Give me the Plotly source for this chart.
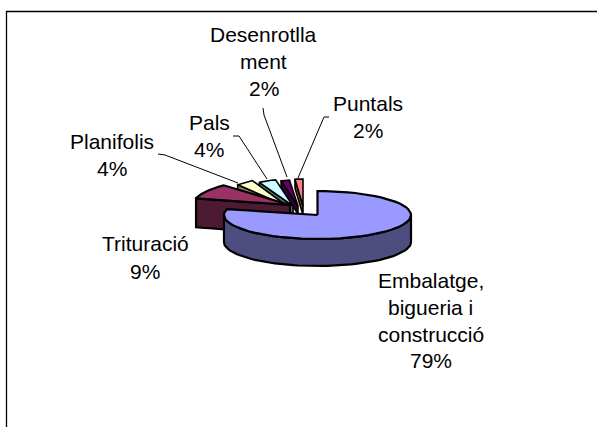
import math
import plotly.graph_objects as go

categories = ["Embalatge, bigueria i construcció", "Trituració", "Planifolis", "Pals", "Desenrotllament", "Puntals"]
values = [79, 9, 4, 4, 2, 2]
top_colors = ["#9999FF", "#993366", "#FFFFCC", "#CCFFFF", "#660066", "#FF8080"]
side_colors = ["#4D4D80", "#4D1A33", "#80804D", "#4D8080", "#330033", "#804040"]
label_lines = [
    ["Embalatge,", "bigueria i", "construcció", "79%"],
    ["Trituració", "9%"],
    ["Planifolis", "4%"],
    ["Pals", "4%"],
    ["Desenrotlla", "ment", "2%"],
    ["Puntals", "2%"],
]
label_x = [430.5, 145, 111.5, 209, 263.5, 368]
label_y = [[280, 307, 334, 360], [243, 271], [141, 168], [122, 149], [34, 61, 88], [103, 130]]
leader_x = [[], [], [158, 165, 238], [233, 239, 267], [263, 264, 287], [329, 324, 298]]
leader_y = [[], [], [154, 155, 183], [136, 136, 179], [108, 115, 177], [117, 117, 178]]

W, H = 597, 427
# (cx, cy, rx, ry, depth, outline) per slice: exploded slices sit in their own perspective
geom = [(317.5, 215, 93.5, 24, 27, 2.2), (290, 205, 97, 27, 29, 2.2), (287, 206, 72, 29, 8, 1.6),
        (293, 206, 70, 27, 8, 1.6), (298, 206, 68, 26, 8, 1.6), (303, 206, 64, 27, 9, 1.6)]

total = sum(values)
angles = [0]
for v in values:
    angles.append(angles[-1] + v / total * 2 * math.pi)


def rim(g, a):
    return g[0] + g[2] * math.sin(a), g[1] - g[3] * math.cos(a)


def arc(g, a0, a1, n=60):
    pts = [rim(g, a0 + (a1 - a0) * i / n) for i in range(n + 1)]
    return [p[0] for p in pts], [p[1] for p in pts]


fig = go.Figure()


def poly(xs, ys, color, width):
    fig.add_trace(go.Scatter(x=xs + xs[:1], y=ys + ys[:1], mode="lines", fill="toself",
                             fillcolor=color, line=dict(color="black", width=width),
                             hoverinfo="skip", showlegend=False))


for i in range(len(values) - 1, -1, -1):
    g = geom[i]
    a0, a1 = angles[i], angles[i + 1]
    ax, ay = arc(g, a0, a1)
    d = g[4]
    if i > 0:
        # radial face along the slice's leading edge
        px, py = rim(g, a0)
        poly([g[0], px, px, g[0]], [g[1], py, py + d, g[1] + d], side_colors[i], g[5])
    else:
        # outer wall of the front of the main slice
        a2 = min(a1, 1.5 * math.pi)
        sx, sy = arc(g, math.pi / 2, a2)
        poly(sx + sx[::-1], sy + [y + d for y in sy[::-1]], side_colors[i], g[5])
    poly([g[0]] + ax, [g[1]] + ay, top_colors[i], g[5])

for xs, ys in zip(leader_x, leader_y):
    if xs:
        fig.add_trace(go.Scatter(x=xs, y=ys, mode="lines", line=dict(color="black", width=1),
                                 hoverinfo="skip", showlegend=False))

# chart frame: left and top edges
fig.add_trace(go.Scatter(x=[6.5, 6.5, W], y=[H, 11.5, 11.5], mode="lines",
                         line=dict(color="black", width=1.3), hoverinfo="skip", showlegend=False))

for lines, x, ys in zip(label_lines, label_x, label_y):
    for t, y in zip(lines, ys):
        fig.add_annotation(x=x, y=y, text=t, showarrow=False, xanchor="center", yanchor="middle",
                           font=dict(family="Liberation Sans", size=21, color="black"))

fig.update_layout(width=W, height=H, margin=dict(l=0, r=0, t=0, b=0), autosize=False,
                  paper_bgcolor="white", plot_bgcolor="white", showlegend=False,
                  xaxis=dict(range=[0, W], visible=False, fixedrange=True),
                  yaxis=dict(range=[H, 0], visible=False, fixedrange=True))
fig.write_html("out.html", config=dict(displayModeBar=False),
               post_script="document.body.style.margin='0';document.documentElement.style.overflow='hidden';")
